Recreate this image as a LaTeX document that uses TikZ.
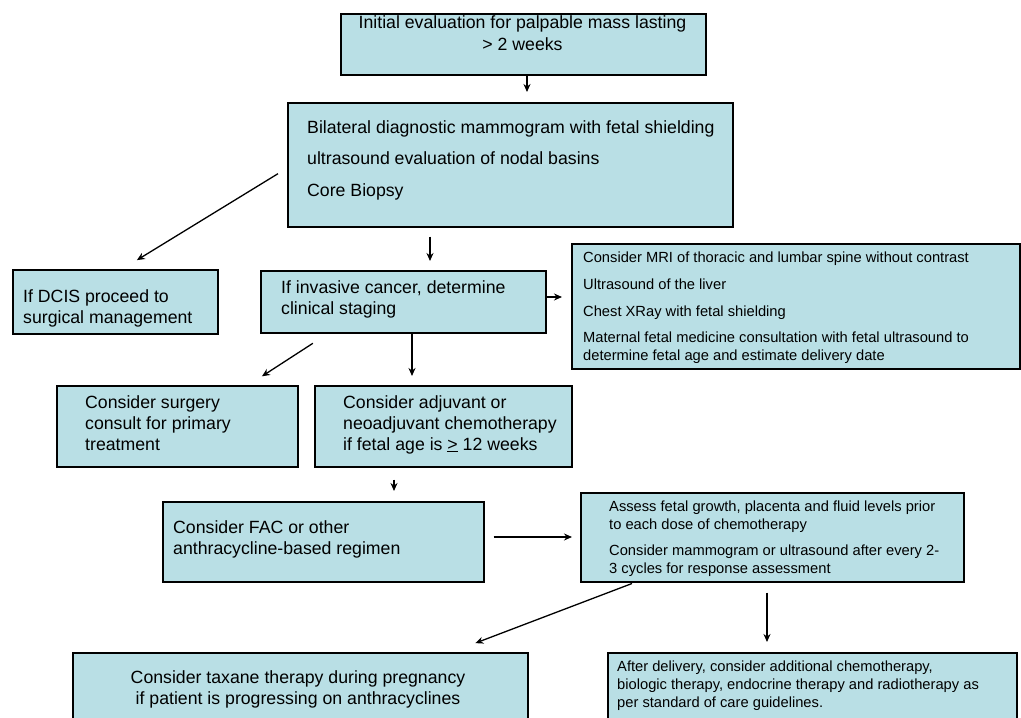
\documentclass[tikz,border=0pt]{standalone}
\usepackage{fontspec}
\setmainfont{Liberation Sans}
\usetikzlibrary{calc,arrows.meta}
\definecolor{boxfill}{RGB}{185,223,229}
\begin{document}
\begin{tikzpicture}[x=1pt,y=-1pt,
  box/.style={draw=black, line width=1.5pt, fill=boxfill, inner sep=0pt, anchor=north west},
  bigtxt/.style={font=\fontsize{17.7}{21}\selectfont, inner sep=0pt, align=left, anchor=north west},
  smalltxt/.style={font=\fontsize{14.7}{18}\selectfont, inner sep=0pt, align=left, anchor=north west},
  arr/.style={-{Stealth[length=8pt,width=7pt]}, line width=1.3pt}]
\clip (0,0) rectangle (1021,718);
\fill[white] (0,0) rectangle (1021,718);
% boxes
\node[box, minimum width=365pt, minimum height=61pt] (b1) at (340,13) {};
\node[box, minimum width=445pt, minimum height=124pt] (b2) at (287,102) {};
\node[box, minimum width=205pt, minimum height=64pt] (dcis) at (12,269) {};
\node[box, minimum width=285pt, minimum height=62pt] (inv) at (260,270) {};
\node[box, minimum width=448pt, minimum height=125pt] (mri) at (571,243) {};
\node[box, minimum width=241pt, minimum height=81pt] (surg) at (56,385) {};
\node[box, minimum width=257pt, minimum height=81pt] (adj) at (314,385) {};
\node[box, minimum width=321pt, minimum height=80pt] (fac) at (162,501) {};
\node[box, minimum width=383pt, minimum height=89pt] (ass) at (580,492) {};
\node[box, minimum width=455pt, minimum height=90pt] (tax) at (72,652) {};
\node[box, minimum width=409pt, minimum height=90pt] (aft) at (607,652) {};
% texts
\node[bigtxt, align=center, anchor=north] (t1) at (522.5,15) {Initial evaluation for palpable mass lasting\\[1pt]> 2 weeks};
\node[bigtxt] (t2) at (307,120) {Bilateral diagnostic mammogram with fetal shielding\\[10pt]ultrasound evaluation of nodal basins\\[11pt]Core Biopsy};
\node[bigtxt] (tdcis) at (23,289) {If DCIS proceed to\\surgical management};
\node[bigtxt] (tinv) at (281,280) {If invasive cancer, determine\\clinical staging};
\node[smalltxt] (tmri) at (583,252) {Consider MRI of thoracic and lumbar spine without contrast\\[9pt]Ultrasound of the liver\\[9pt]Chest XRay with fetal shielding\\[8pt]Maternal fetal medicine consultation with fetal ultrasound to\\determine fetal age and estimate delivery date};
\node[bigtxt] (tsurg) at (85,395) {Consider surgery\\consult for primary\\treatment};
\node[bigtxt] (tadj) at (343,395) {Consider adjuvant or\\neoadjuvant chemotherapy\\if fetal age is \underline{>} 12 weeks};
\node[bigtxt] (tfac) at (173,520) {Consider FAC or other\\anthracycline-based regimen};
\node[smalltxt] (tass) at (609,501) {Assess fetal growth, placenta and fluid levels prior\\to each dose of chemotherapy\\[8pt]Consider mammogram or ultrasound after every 2-\\3 cycles for response assessment};
\node[bigtxt, align=center, anchor=north] (ttax) at (298,670) {Consider taxane therapy during pregnancy\\if patient is progressing on anthracyclines};
\node[smalltxt] (taft) at (617,661) {After delivery, consider additional chemotherapy,\\biologic therapy, endocrine therapy and radiotherapy as\\per standard of care guidelines.};
% connectors
\draw[arr, shorten >=10pt] ($(b1.south west)+(187,0)$) -- ($(b2.north west)+(240,0)$);
\draw[arr, shorten <=10.6pt, shorten >=17pt] ($(b2.west)+(0,3.4)$) -- ($(dcis.north west)+(110.4,0)$);
\draw[arr, shorten <=9pt, shorten >=9pt] ($(b2.south west)+(143,0)$) -- ($(inv.north west)+(170,0)$);
\draw[arr, shorten >=9pt] ($(inv.north east)+(0,27)$) -- ($(mri.north west)+(0,54)$);
\draw[arr, shorten <=18pt, shorten >=16pt] ($(inv.south west)+(68,0)$) -- ($(surg.north west)+(192.5,0)$);
\draw[arr, shorten >=9pt] ($(inv.south west)+(152,0)$) -- ($(adj.north west)+(98,0)$);
\draw[arr, shorten <=12pt, shorten >=10pt] ($(adj.south west)+(80,0)$) -- ($(fac.north west)+(232,0)$);
\draw[arr, shorten <=9pt, shorten >=8pt] ($(fac.north east)+(0,36)$) -- ($(ass.north west)+(0,45)$);
\draw[arr, shorten >=25pt] ($(ass.south west)+(52,1)$) -- ($(tax.north west)+(380,0)$);
\draw[arr, shorten <=10pt, shorten >=10pt] ($(ass.south west)+(187,0)$) -- ($(aft.north west)+(160,0)$);
\end{tikzpicture}
\end{document}
